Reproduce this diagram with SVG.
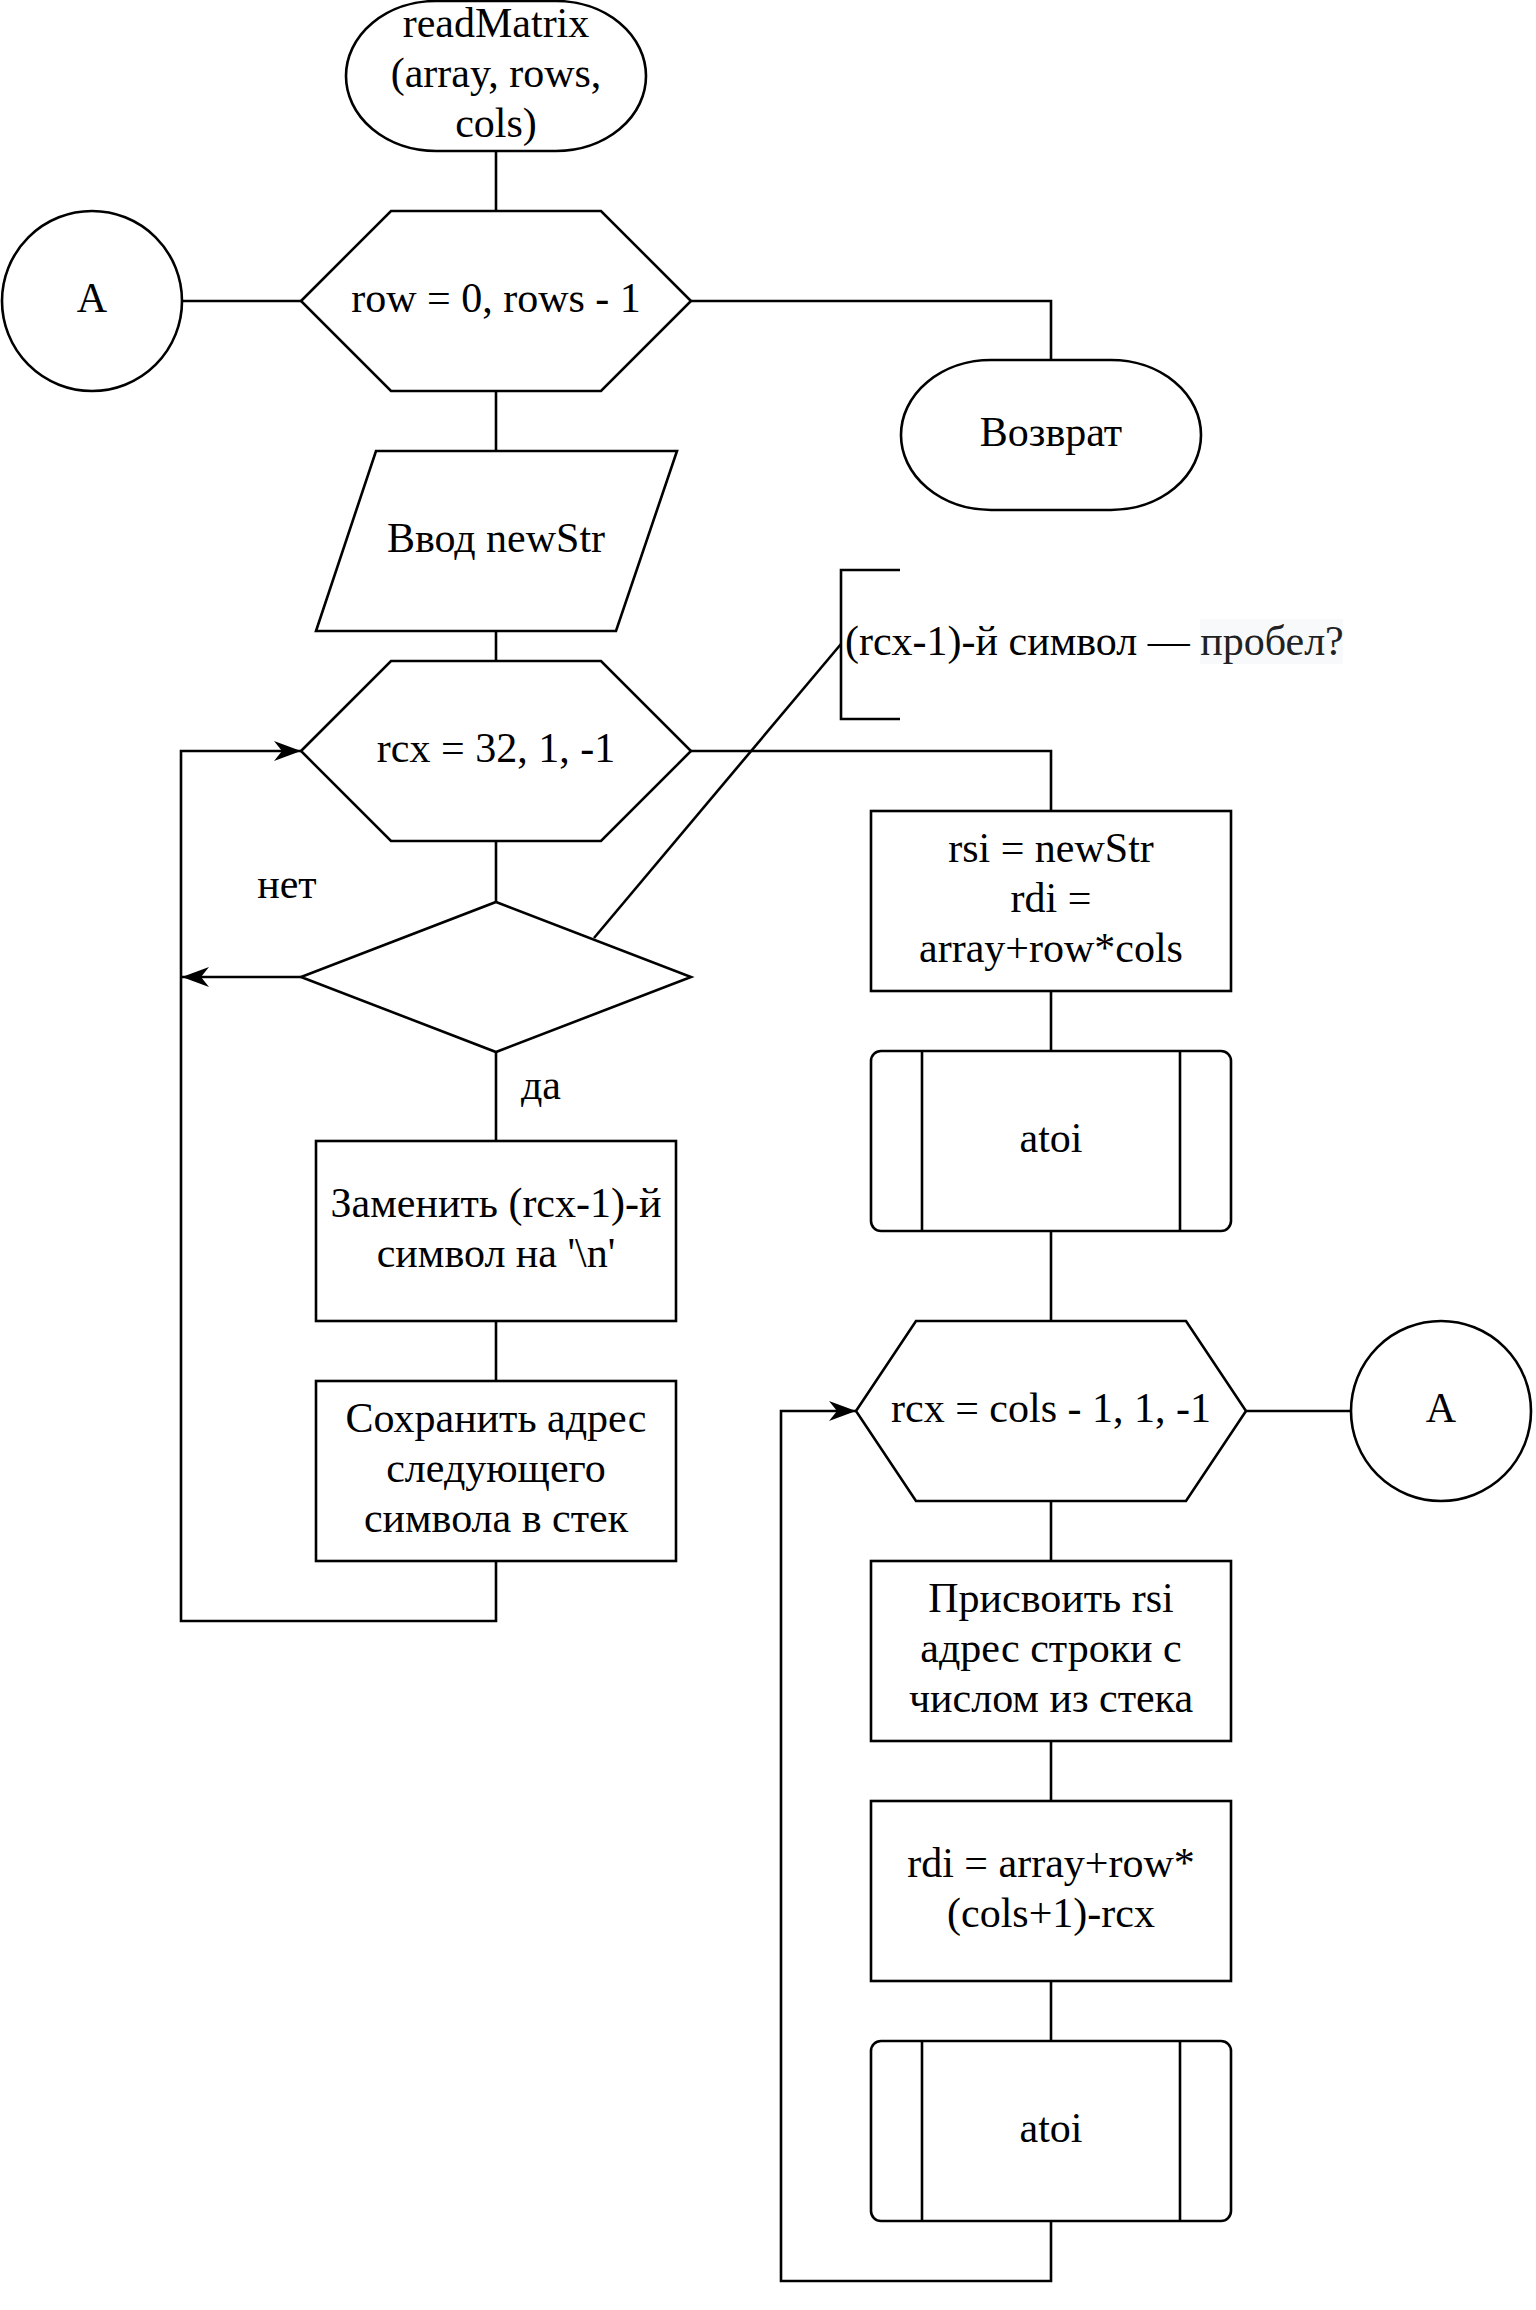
<svg xmlns="http://www.w3.org/2000/svg" width="1536" height="2310" viewBox="0 0 1536 2310">
<style>
.s{fill:#fff;stroke:#000;stroke-width:2.6}
.c{fill:none;stroke:#000;stroke-width:2.6}
.t{font-family:"Liberation Serif","Times New Roman",serif;font-size:42px;fill:#000;text-anchor:middle}
.ts{font-family:"Liberation Serif","Times New Roman",serif;font-size:42px;fill:#000}
</style>
<defs>
<marker id="arr" markerUnits="userSpaceOnUse" markerWidth="30" markerHeight="22" refX="27" refY="10" orient="auto">
<path d="M0,0 L27,10 L0,20 L8,10 Z" fill="#000"/>
</marker>
</defs>
<rect width="1536" height="2310" fill="#fff"/>
<g id="connectors">
<path class="c" d="M496,151 V211"/>
<path class="c" d="M182,301 H301"/>
<path class="c" d="M691,301 H1051 V360"/>
<path class="c" d="M496,391 V451"/>
<path class="c" d="M496,631 V661"/>
<path class="c" d="M496,841 V902"/>
<path class="c" d="M496,1052 V1141"/>
<path class="c" d="M301,977 H182" marker-end="url(#arr)"/>
<path class="c" d="M496,1321 V1381"/>
<path class="c" d="M496,1561 V1621 H181 V751 H301" marker-end="url(#arr)"/>
<path class="c" d="M691,751 H1051 V811"/>
<path class="c" d="M1051,991 V1051"/>
<path class="c" d="M1051,1231 V1321"/>
<path class="c" d="M1246,1411 H1351"/>
<path class="c" d="M1051,1501 V1561"/>
<path class="c" d="M1051,1741 V1801"/>
<path class="c" d="M1051,1981 V2041"/>
<path class="c" d="M1051,2221 V2281 H781 V1411 H856" marker-end="url(#arr)"/>
<path class="c" d="M594,938 L841,644"/>
</g>
<g id="start">
<rect class="s" x="346" y="1" width="300" height="150" rx="90" ry="75"/>
<text class="t" x="496" y="37">readMatrix</text>
<text class="t" x="496" y="87">(array, rows,</text>
<text class="t" x="496" y="137">cols)</text>
</g>
<g id="loopRow">
<polygon class="s" points="301,301 391,211 601,211 691,301 601,391 391,391"/>
<text class="t" x="496" y="312">row = 0, rows - 1</text>
</g>
<g id="connA1">
<circle class="s" cx="92" cy="301" r="90"/>
<text class="t" x="92" y="312">A</text>
</g>
<g id="ret">
<rect class="s" x="901" y="360" width="300" height="150" rx="90" ry="75"/>
<text class="t" x="1051" y="446">Возврат</text>
</g>
<g id="input">
<polygon class="s" points="376,451 677,451 616,631 316,631"/>
<text class="t" x="496" y="552">Ввод newStr</text>
</g>
<g id="loopRcx">
<polygon class="s" points="301,751 391,661 601,661 691,751 601,841 391,841"/>
<text class="t" x="496" y="762">rcx = 32, 1, -1</text>
</g>
<g id="decision">
<polygon class="s" points="496,902 691,977 496,1052 301,977"/>
</g>
<g id="labels">
<text class="t" x="287" y="898">нет</text>
<text class="t" x="541" y="1099">да</text>
</g>
<g id="annotation">
<path class="c" d="M900,570 H841 V719 H900"/>
<rect x="1200" y="619" width="143" height="45" fill="#f8f9fa"/>
<text class="ts" x="845" y="655">(rcx-1)-й символ — <tspan fill="#202122">пробел?</tspan></text>
</g>
<g id="replace">
<rect class="s" x="316" y="1141" width="360" height="180"/>
<text class="t" x="496" y="1217">Заменить (rcx-1)-й</text>
<text class="t" x="496" y="1267">символ на '\n'</text>
</g>
<g id="save">
<rect class="s" x="316" y="1381" width="360" height="180"/>
<text class="t" x="496" y="1432">Сохранить адрес</text>
<text class="t" x="496" y="1482">следующего</text>
<text class="t" x="496" y="1532">символа в стек</text>
</g>
<g id="setRegs">
<rect class="s" x="871" y="811" width="360" height="180"/>
<text class="t" x="1051" y="862">rsi = newStr</text>
<text class="t" x="1051" y="912">rdi =</text>
<text class="t" x="1051" y="962">array+row*cols</text>
</g>
<g id="atoi1">
<rect class="s" x="871" y="1051" width="360" height="180" rx="10" ry="10"/>
<path class="c" d="M922,1051 V1231 M1180,1051 V1231"/>
<text class="t" x="1051" y="1152">atoi</text>
</g>
<g id="loopCols">
<polygon class="s" points="856,1411 916,1321 1186,1321 1246,1411 1186,1501 916,1501"/>
<text class="t" x="1051" y="1422">rcx = cols - 1, 1, -1</text>
</g>
<g id="connA2">
<circle class="s" cx="1441" cy="1411" r="90"/>
<text class="t" x="1441" y="1422">A</text>
</g>
<g id="assignRsi">
<rect class="s" x="871" y="1561" width="360" height="180"/>
<text class="t" x="1051" y="1612">Присвоить rsi</text>
<text class="t" x="1051" y="1662">адрес строки с</text>
<text class="t" x="1051" y="1712">числом из стека</text>
</g>
<g id="setRdi">
<rect class="s" x="871" y="1801" width="360" height="180"/>
<text class="t" x="1051" y="1877">rdi = array+row*</text>
<text class="t" x="1051" y="1927">(cols+1)-rcx</text>
</g>
<g id="atoi2">
<rect class="s" x="871" y="2041" width="360" height="180" rx="10" ry="10"/>
<path class="c" d="M922,2041 V2221 M1180,2041 V2221"/>
<text class="t" x="1051" y="2142">atoi</text>
</g>
</svg>
